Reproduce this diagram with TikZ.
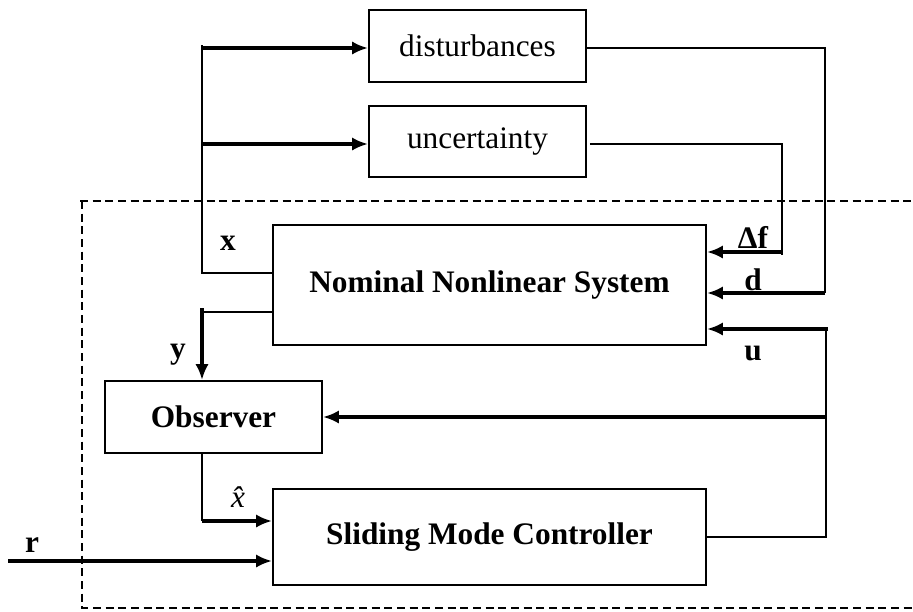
\documentclass[tikz,border=0pt]{standalone}
\usepackage{fontspec}
\setmainfont{Liberation Serif}
\usetikzlibrary{arrows.meta}
\begin{document}
\begin{tikzpicture}[x=0.75pt,y=-0.75pt,
  every node/.style={font=\fontsize{23.5}{28}\selectfont},
  blk/.style={draw,line width=1.4pt,inner sep=0pt,align=center},
  wire/.style={line width=1.2pt},
  bigarrow/.style={line width=2.8pt,-{Latex[length=12pt,width=10pt]}},
  frame/.style={line width=2.1pt,dash pattern=on 6pt off 3.5pt},
  lbl/.style={font=\fontsize{23.5}{28}\selectfont\bfseries,inner sep=0pt}]
\useasboundingbox (0,0) rectangle (913,611);
% blocks
\node[blk,minimum width={217*0.75pt},minimum height={72*0.75pt}] (dist) at (477.5,46) {disturbances};
\node[blk,minimum width={217*0.75pt},minimum height={71*0.75pt}] (unc) at (477.5,141.5) {uncertainty};
\node[blk,minimum width={433*0.75pt},minimum height={120*0.75pt},font=\fontsize{23.5}{28}\selectfont\bfseries] (nom) at (489.5,285) {Nominal Nonlinear System};
\node[blk,minimum width={217*0.75pt},minimum height={72*0.75pt},font=\fontsize{23.5}{28}\selectfont\bfseries] (obs) at (213.5,417) {Observer};
\node[blk,minimum width={433*0.75pt},minimum height={96*0.75pt},font=\fontsize{23.5}{28}\selectfont\bfseries] (smc) at (489.5,537) {Sliding Mode Controller};
% junction coordinates
\coordinate (xa) at (202,273);
\coordinate (xt) at (202,45);
\coordinate (da) at (202,48);
\coordinate (ua) at (202,144);
\coordinate (dr) at (825,48);
\coordinate (dd) at (825,293);
\coordinate (ur) at (782,144);
\coordinate (ud) at (782,255);
\coordinate (uf) at (782,252);
\coordinate (uin) at (828,329);
\coordinate (ut) at (826,329);
\coordinate (ub) at (826,537);
\coordinate (uo) at (826,417);
\coordinate (ya) at (202,312);
\coordinate (yt) at (202,308);
\coordinate (xh) at (202,521);
\coordinate (rs) at (8,561);
% state feedback to disturbances / uncertainty
\draw[wire] (xa -| nom.west) -- (xa) -- (xt);
\draw[bigarrow] (da) -- (da -| dist.west);
\draw[bigarrow] (ua) -- (ua -| unc.west);
% disturbances -> d
\draw[wire] (da -| dist.east) -- (dr) -- (dd);
\draw[bigarrow] (dd) -- (dd -| nom.east);
% uncertainty -> Delta f
\draw[wire] ([xshift=2.25pt]ua -| unc.east) -- (ur) -- (ud);
\draw[bigarrow] (uf) -- (uf -| nom.east);
% control u
\draw[bigarrow] (uin) -- (uin -| nom.east);
\draw[wire] (ut) -- (ub) -- (ub -| smc.east);
\draw[bigarrow] (uo) -- (uo -| obs.east);
% y
\draw[wire] (ya -| nom.west) -- (ya);
\draw[bigarrow] (yt) -- (yt |- obs.north);
% xhat
\draw[wire] (xh |- obs.south) -- (xh);
\draw[bigarrow] (xh) -- (xh -| smc.west);
% r
\draw[bigarrow] (rs) -- (rs -| smc.west);
% dashed frame
\draw[frame] (80,201) -- (913,201);
\draw[frame] (82,201) -- (82,608) -- (913,608);
% labels
\node[lbl] (lx) at (228,243) {x};
\node[lbl] (ly) at (178,355) {y};
\node[lbl] (ldf) at (753,237) {Δf};
\node[lbl] (ld) at (753,280) {d};
\node[lbl] (lu) at (753,353) {u};
\node[lbl] (lr) at (32,545) {r};
\node[inner sep=0pt] (lxh) at (238,497) {\itshape\^{x}};
\end{tikzpicture}
\end{document}
